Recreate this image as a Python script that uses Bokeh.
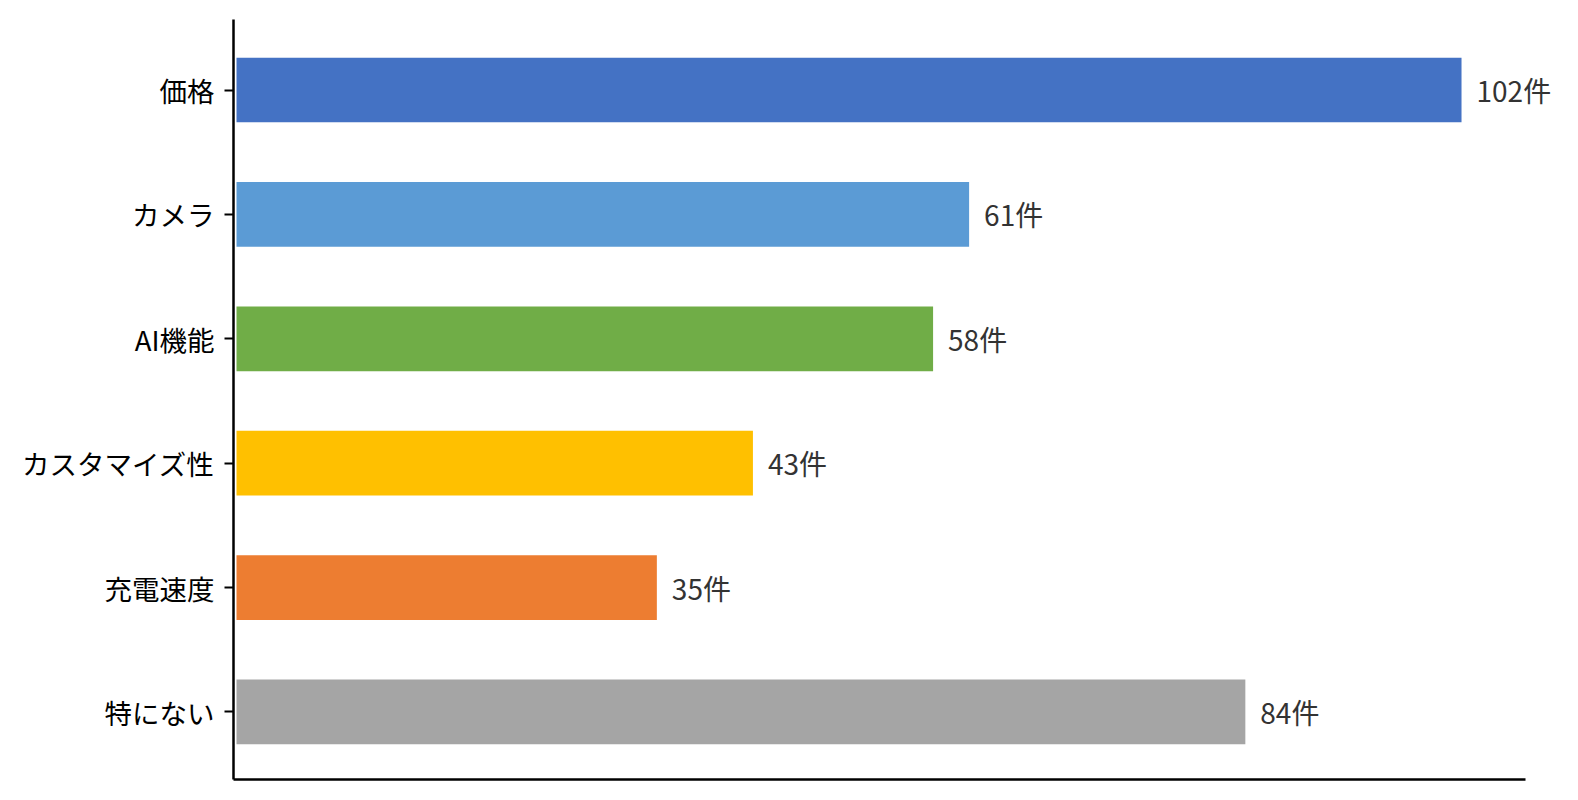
from bokeh.plotting import figure
from bokeh.models import ColumnDataSource, Range1d, FixedTicker, LabelSet
from bokeh.core.properties import value
from bokeh.embed import file_html
from bokeh.resources import INLINE

categories = ["価格", "カメラ", "AI機能", "カスタマイズ性", "充電速度", "特にない"]
counts = [102, 61, 58, 43, 35, 84]
colors = ["#4472C4", "#5B9BD5", "#70AD47", "#FFC000", "#ED7D31", "#A5A5A5"]
unit = "件"

n = len(categories)
ypos = [n - 1 - i for i in range(n)]
labels = [f"{c}{unit}" for c in counts]

src = ColumnDataSource(dict(y=ypos, x=counts, color=colors, label=labels, cat=categories))

FONT = "Noto Sans CJK JP"
X_START, X_AXIS_END, X_VIEW_END = -0.25, 107.33, 111.74

p = figure(width=1578, height=800, output_backend="svg", toolbar_location=None,
           x_range=Range1d(X_START, X_VIEW_END), y_range=Range1d(-0.543, 5.567),
           min_border_left=233, min_border_right=0, min_border_top=19, min_border_bottom=21)
p.outline_line_color = None
p.xgrid.visible = False
p.ygrid.visible = False
p.background_fill_color = "white"
p.border_fill_color = "white"

p.hbar(y="y", right="x", left=0, height=0.52, color="color", line_color=None, source=src)

value_labels = LabelSet(x="x", y="y", text="label", x_offset=15, source=src,
                        text_baseline="middle", text_align="left",
                        text_font=value(FONT), text_font_size=value("28px"),
                        text_color=value("#333333"))
p.add_layout(value_labels)

# x axis: only a line, limited to its own bounds
p.xaxis.ticker = FixedTicker(ticks=[])
p.xaxis.bounds = (X_START, X_AXIS_END)
p.xaxis.major_tick_line_color = None
p.xaxis.minor_tick_line_color = None
p.xaxis.major_label_standoff = 0
p.xaxis.axis_line_width = 2.5
p.xaxis.axis_line_color = "black"

# y axis
p.yaxis.ticker = FixedTicker(ticks=ypos)
p.yaxis.major_label_overrides = {y: c for y, c in zip(ypos, categories)}
p.yaxis.minor_tick_line_color = None
p.yaxis.major_tick_in = 0
p.yaxis.major_tick_out = 9
p.yaxis.major_tick_line_width = 2
p.yaxis.major_tick_line_color = "black"
p.yaxis.axis_line_width = 2.5
p.yaxis.axis_line_color = "black"
p.yaxis.major_label_text_font = FONT
p.yaxis.major_label_text_font_size = "27.5px"
p.yaxis.major_label_text_color = "black"
p.yaxis.major_label_standoff = 10

open("out.html", "w").write(file_html(p, INLINE))
